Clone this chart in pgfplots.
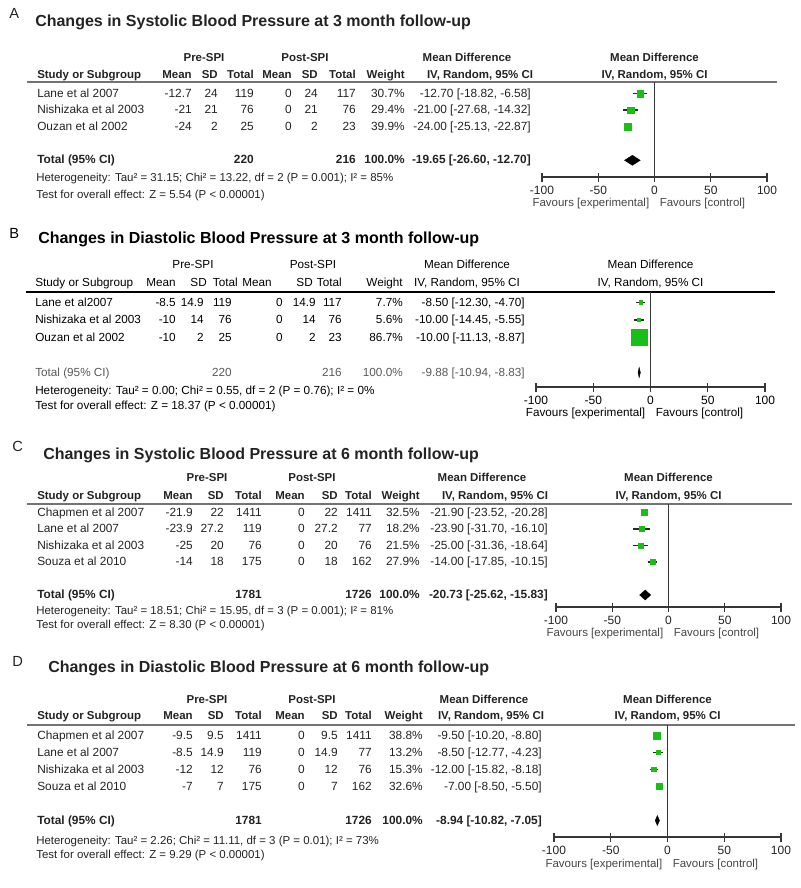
\documentclass[border=0pt]{standalone}
\usepackage{fontspec}
\setmainfont{Liberation Sans}
\usepackage{pgfplots}
\pgfplotsset{compat=1.18}
\definecolor{fgreen}{RGB}{25,190,25}
\definecolor{txt}{RGB}{35,35,35}
\definecolor{rulegray}{RGB}{115,115,115}
\definecolor{axgray}{RGB}{55,55,55}
\definecolor{favgray}{RGB}{70,70,70}
\definecolor{cigray}{RGB}{40,40,40}
\newcommand{\fs}[1]{\fontsize{#1}{#1}\selectfont}

\pgfplotsset{
  forest/.style={
    scale only axis, clip=false, anchor=south west,
    xmin=-100, xmax=100,
    axis x line=bottom, axis y line=none,
    x axis line style={-, line width=0.8pt, draw=axgray},
    xtick={-100,-50,0,50,100},
    tick align=center, major tick length=6.75pt,
    xtick style={line width=0.8pt, draw=axgray},
    /pgf/number format/assume math mode=true,
    xticklabel style={font=\fs{9pt}, text=txt, inner sep=0pt, anchor=north, yshift=-3pt},
  },
  ci/.style={draw=cigray, line width=1.1pt},
  box/.style={only marks, mark=square*, mark options={fill=fgreen, draw=fgreen}},
  dia/.style={fill=black, draw=black, line width=0.3pt},
}

% y, name, m1, sd1, n1, sd2, n2, weight, ci
\newcommand{\drow}[9]{%
  \node[al] at (\cS,#1) {#2};
  \node[ar] at (\cMa,#1) {#3};
  \node[ar] at (\cSa,#1) {#4};
  \node[ar] at (\cNa,#1) {#5};
  \node[ar] at (\cMb,#1) {0};
  \node[ar] at (\cSb,#1) {#6};
  \node[ar] at (\cNb,#1) {#7};
  \node[ar] at (\cW,#1) {#8};
  \node[ar] at (\cCI,#1) {#9};
}

\begin{document}
\begin{tikzpicture}[x=0.75pt,y=-0.75pt,
  al/.style={anchor=mid west}, ar/.style={anchor=mid east}, ac/.style={anchor=mid}]
\useasboundingbox (0,0) rectangle (800,888);

\begin{scope}[every node/.style={inner sep=0pt, text=txt}]
% ================= Panel A =================
\node[al, font=\fs{11pt}] at (9,15) {A};
\node[al, font=\bfseries\fs{12pt}] at (35,23) {Changes in Systolic Blood Pressure at 3 month follow-up};
\begin{scope}[every node/.append style={font=\bfseries\fs{8.6pt}}]
\node[ac] at (204,58) {Pre-SPI};
\node[ac] at (305,58) {Post-SPI};
\node[ac] at (467,58) {Mean Difference};
\node[ac] at (654.5,58) {Mean Difference};
\node[al] at (37,75) {Study or Subgroup};
\node[ar] at (192,75) {Mean}; \node[ar] at (218,75) {SD}; \node[ar] at (254,75) {Total};
\node[ar] at (292,75) {Mean}; \node[ar] at (318,75) {SD}; \node[ar] at (356,75) {Total};
\node[ar] at (405,75) {Weight};
\node[ac] at (480,75) {IV, Random, 95\% CI};
\node[ac] at (654.5,75) {IV, Random, 95\% CI};
\end{scope}
\draw[rulegray, line width=1.7pt] (27,82) -- (777,82);
\def\cS{37}\def\cMa{192}\def\cSa{218}\def\cNa{254}\def\cMb{292}\def\cSb{318}\def\cNb{356}\def\cW{405}\def\cCI{531}
\begin{scope}[every node/.append style={font=\fs{8.9pt}}]
\drow{93.5}{Lane et al 2007}{-12.7}{24}{119}{24}{117}{30.7\%}{-12.70 [-18.82, -6.58]}
\drow{110.2}{Nishizaka et al 2003}{-21}{21}{76}{21}{76}{29.4\%}{-21.00 [-27.68, -14.32]}
\drow{126.9}{Ouzan et al 2002}{-24}{2}{25}{2}{23}{39.9\%}{-24.00 [-25.13, -22.87]}
\end{scope}
\begin{scope}[every node/.append style={font=\bfseries\fs{8.9pt}}]
\node[al] at (\cS,160.3) {Total (95\% CI)};
\node[ar] at (\cNa,160.3) {220}; \node[ar] at (\cNb,160.3) {216};
\node[ar] at (\cW,160.3) {100.0\%}; \node[ar] at (\cCI,160.3) {-19.65 [-26.60, -12.70]};
\end{scope}
\begin{scope}[every node/.append style={font=\fs{8.6pt}}]
\node[al] at (36,178) {Heterogeneity: Tau² = 31.15; Chi² = 13.22, df = 2 (P = 0.001); I² = 85\%};
\node[al] at (36,195) {Test for overall effect: Z = 5.54 (P < 0.00001)};
\node[ar, text=favgray] at (649.5,203) {Favours [experimental]};
\node[al, text=favgray] at (659.5,203) {Favours [control]};
\end{scope}

% ================= Panel B =================
\node[al, font=\fs{11pt}, text=black] at (9,235) {B};
\node[al, font=\bfseries\fs{12pt}, text=black] at (38,240) {Changes in Diastolic Blood Pressure at 3 month follow-up};
\begin{scope}[every node/.append style={font=\fs{8.8pt}, text=black}]
\node[ac] at (193,265) {Pre-SPI};
\node[ac] at (313,265) {Post-SPI};
\node[ac] at (467,265) {Mean Difference};
\node[ac] at (650.5,265) {Mean Difference};
\node[al] at (35,283) {Study or Subgroup};
\node[ar] at (176,283) {Mean}; \node[ar] at (207,283) {SD}; \node[ar] at (238,283) {Total};
\node[ar] at (272,283) {Mean}; \node[ar] at (313,283) {SD}; \node[ar] at (342,283) {Total};
\node[ar] at (403,283) {Weight};
\node[ac] at (467,283) {IV, Random, 95\% CI};
\node[ac] at (650.5,283) {IV, Random, 95\% CI};
\end{scope}
\draw[black, line width=1.1pt] (26,292) -- (775,292);
\def\cS{35}\def\cMa{176}\def\cSa{204}\def\cNa{232}\def\cMb{283}\def\cSb{316}\def\cNb{342}\def\cW{403}\def\cCI{525}
\begin{scope}[every node/.append style={font=\fs{8.8pt}, text=black}]
\drow{302.5}{Lane et al2007}{-8.5}{14.9}{119}{14.9}{117}{7.7\%}{-8.50 [-12.30, -4.70]}
\drow{320}{Nishizaka et al 2003}{-10}{14}{76}{14}{76}{5.6\%}{-10.00 [-14.45, -5.55]}
\drow{337.5}{Ouzan et al 2002}{-10}{2}{25}{2}{23}{86.7\%}{-10.00 [-11.13, -8.87]}
\end{scope}
\begin{scope}[every node/.append style={font=\fs{8.8pt}, text=black!65}]
\node[al] at (\cS,372.5) {Total (95\% CI)};
\node[ar] at (\cNa,372.5) {220}; \node[ar] at (\cNb,372.5) {216};
\node[ar] at (\cW,372.5) {100.0\%}; \node[ar] at (\cCI,372.5) {-9.88 [-10.94, -8.83]};
\end{scope}
\begin{scope}[every node/.append style={font=\fs{8.8pt}, text=black}]
\node[al] at (35,391) {Heterogeneity: Tau² = 0.00; Chi² = 0.55, df = 2 (P = 0.76); I² = 0\%};
\node[al] at (35,406) {Test for overall effect: Z = 18.37 (P < 0.00001)};
\node[ar] at (645.5,413) {Favours [experimental]};
\node[al] at (655.5,413) {Favours [control]};
\end{scope}

% ================= Panel C =================
\node[al, font=\fs{11pt}] at (12,448) {C};
\node[al, font=\bfseries\fs{12pt}] at (43,456) {Changes in Systolic Blood Pressure at 6 month follow-up};
\begin{scope}[every node/.append style={font=\bfseries\fs{8.6pt}}]
\node[ac] at (207,478) {Pre-SPI};
\node[ac] at (312,478) {Post-SPI};
\node[ac] at (482,478) {Mean Difference};
\node[ac] at (668.5,478) {Mean Difference};
\node[al] at (37,496) {Study or Subgroup};
\node[ar] at (193,496) {Mean}; \node[ar] at (224,496) {SD}; \node[ar] at (262,496) {Total};
\node[ar] at (305,496) {Mean}; \node[ar] at (338,496) {SD}; \node[ar] at (372,496) {Total};
\node[ar] at (420,496) {Weight};
\node[ac] at (495,496) {IV, Random, 95\% CI};
\node[ac] at (668.5,496) {IV, Random, 95\% CI};
\end{scope}
\draw[rulegray, line width=1.7pt] (27,504) -- (792,504);
\def\cS{37}\def\cMa{193}\def\cSa{224}\def\cNa{262}\def\cMb{305}\def\cSb{338}\def\cNb{372}\def\cW{420}\def\cCI{548}
\begin{scope}[every node/.append style={font=\fs{8.9pt}}]
\drow{512.5}{Chapmen et al 2007}{-21.9}{22}{1411}{22}{1411}{32.5\%}{-21.90 [-23.52, -20.28]}
\drow{529}{Lane et al 2007}{-23.9}{27.2}{119}{27.2}{77}{18.2\%}{-23.90 [-31.70, -16.10]}
\drow{545.5}{Nishizaka et al 2003}{-25}{20}{76}{20}{76}{21.5\%}{-25.00 [-31.36, -18.64]}
\drow{562}{Souza et al 2010}{-14}{18}{175}{18}{162}{27.9\%}{-14.00 [-17.85, -10.15]}
\end{scope}
\begin{scope}[every node/.append style={font=\bfseries\fs{8.9pt}}]
\node[al] at (\cS,595) {Total (95\% CI)};
\node[ar] at (\cNa,595) {1781}; \node[ar] at (\cNb,595) {1726};
\node[ar] at (\cW,595) {100.0\%}; \node[ar] at (\cCI,595) {-20.73 [-25.62, -15.83]};
\end{scope}
\begin{scope}[every node/.append style={font=\fs{8.6pt}}]
\node[al] at (36,611) {Heterogeneity: Tau² = 18.51; Chi² = 15.95, df = 3 (P = 0.001); I² = 81\%};
\node[al] at (36,625) {Test for overall effect: Z = 8.30 (P < 0.00001)};
\node[ar, text=favgray] at (663.5,633) {Favours [experimental]};
\node[al, text=favgray] at (673.5,633) {Favours [control]};
\end{scope}

% ================= Panel D =================
\node[al, font=\fs{11pt}] at (12,663) {D};
\node[al, font=\bfseries\fs{12pt}] at (48,669) {Changes in Diastolic Blood Pressure at 6 month follow-up};
\begin{scope}[every node/.append style={font=\bfseries\fs{8.6pt}}]
\node[ac] at (207,700) {Pre-SPI};
\node[ac] at (312,700) {Post-SPI};
\node[ac] at (484,700) {Mean Difference};
\node[ac] at (667.5,700) {Mean Difference};
\node[al] at (37,716) {Study or Subgroup};
\node[ar] at (193,716) {Mean}; \node[ar] at (224,716) {SD}; \node[ar] at (262,716) {Total};
\node[ar] at (305,716) {Mean}; \node[ar] at (338,716) {SD}; \node[ar] at (372,716) {Total};
\node[ar] at (423,716) {Weight};
\node[ac] at (491,716) {IV, Random, 95\% CI};
\node[ac] at (667.5,716) {IV, Random, 95\% CI};
\end{scope}
\draw[rulegray, line width=1.7pt] (27,725) -- (795,725);
\def\cS{37}\def\cMa{193}\def\cSa{224}\def\cNa{262}\def\cMb{305}\def\cSb{338}\def\cNb{372}\def\cW{423}\def\cCI{542}
\begin{scope}[every node/.append style={font=\fs{8.9pt}}]
\drow{735.5}{Chapmen et al 2007}{-9.5}{9.5}{1411}{9.5}{1411}{38.8\%}{-9.50 [-10.20, -8.80]}
\drow{752.5}{Lane et al 2007}{-8.5}{14.9}{119}{14.9}{77}{13.2\%}{-8.50 [-12.77, -4.23]}
\drow{769.5}{Nishizaka et al 2003}{-12}{12}{76}{12}{76}{15.3\%}{-12.00 [-15.82, -8.18]}
\drow{786.5}{Souza et al 2010}{-7}{7}{175}{7}{162}{32.6\%}{-7.00 [-8.50, -5.50]}
\end{scope}
\begin{scope}[every node/.append style={font=\bfseries\fs{8.9pt}}]
\node[al] at (\cS,820.5) {Total (95\% CI)};
\node[ar] at (\cNa,820.5) {1781}; \node[ar] at (\cNb,820.5) {1726};
\node[ar] at (\cW,820.5) {100.0\%}; \node[ar] at (\cCI,820.5) {-8.94 [-10.82, -7.05]};
\end{scope}
\begin{scope}[every node/.append style={font=\fs{8.6pt}}]
\node[al] at (36,841) {Heterogeneity: Tau² = 2.26; Chi² = 11.11, df = 3 (P = 0.01); I² = 73\%};
\node[al] at (36,855) {Test for overall effect: Z = 9.29 (P < 0.00001)};
\node[ar, text=favgray] at (662.5,864) {Favours [experimental]};
\node[al, text=favgray] at (672.5,864) {Favours [control]};
\end{scope}
\end{scope}

% ================= Forest axes =================
% A
\begin{axis}[forest, at={(406.5pt,-132.75pt)}, width=168.75pt, height=71.25pt, ymin=-6.0, ymax=-0.311]
\draw[axgray, line width=0.8pt] (axis cs:0,-6.0) -- (axis cs:0,-0.311);
\addplot[ci] coordinates {(-18.82,-1) (-6.58,-1)};
\addplot[box, mark size=2.5pt] coordinates {(-12.70,-1)};
\addplot[ci] coordinates {(-27.68,-2) (-14.32,-2)};
\addplot[box, mark size=2.45pt] coordinates {(-21.00,-2)};
\addplot[ci] coordinates {(-25.13,-3) (-22.87,-3)};
\addplot[box, mark size=2.8pt] coordinates {(-24.00,-3)};
\addplot[dia] coordinates {(-26.60,-5) (-19.65,-4.7) (-12.70,-5) (-19.65,-5.3)} --cycle;
\end{axis}
% B
\begin{axis}[forest, at={(402pt,-290.25pt)}, width=171.75pt, height=71.25pt, ymin=-5.829, ymax=-0.4,
  xticklabel style={text=black}]
\draw[axgray, line width=0.8pt] (axis cs:0,-5.829) -- (axis cs:0,-0.4);
\addplot[ci] coordinates {(-12.30,-1) (-4.70,-1)};
\addplot[box, mark size=1.3pt] coordinates {(-8.50,-1)};
\addplot[ci] coordinates {(-14.45,-2) (-5.55,-2)};
\addplot[box, mark size=1.15pt] coordinates {(-10.00,-2)};
\addplot[ci] coordinates {(-11.13,-3) (-8.87,-3)};
\addplot[box, mark size=6.2pt] coordinates {(-10.00,-3)};
\addplot[dia] coordinates {(-10.94,-5) (-9.88,-4.714) (-8.83,-5) (-9.88,-5.286)} --cycle;
\end{axis}
% C
\begin{axis}[forest, at={(417pt,-455.25pt)}, width=168.75pt, height=77.25pt, ymin=-6.727, ymax=-0.485]
\draw[axgray, line width=0.8pt] (axis cs:0,-6.727) -- (axis cs:0,-0.485);
\addplot[ci] coordinates {(-23.52,-1) (-20.28,-1)};
\addplot[box, mark size=2.25pt] coordinates {(-21.90,-1)};
\addplot[ci] coordinates {(-31.70,-2) (-16.10,-2)};
\addplot[box, mark size=1.7pt] coordinates {(-23.90,-2)};
\addplot[ci] coordinates {(-31.36,-3) (-18.64,-3)};
\addplot[box, mark size=1.85pt] coordinates {(-25.00,-3)};
\addplot[ci] coordinates {(-17.85,-4) (-10.15,-4)};
\addplot[box, mark size=2.05pt] coordinates {(-14.00,-4)};
\addplot[dia] coordinates {(-25.62,-6) (-20.73,-5.697) (-15.83,-6) (-20.73,-6.303)} --cycle;
\end{axis}
% D
\begin{axis}[forest, at={(415.5pt,-627.75pt)}, width=170.25pt, height=84pt, ymin=-6.971, ymax=-0.382]
\draw[axgray, line width=0.8pt] (axis cs:0,-6.971) -- (axis cs:0,-0.382);
\addplot[ci] coordinates {(-10.20,-1) (-8.80,-1)};
\addplot[box, mark size=2.6pt] coordinates {(-9.50,-1)};
\addplot[ci] coordinates {(-12.77,-2) (-4.23,-2)};
\addplot[box, mark size=1.55pt] coordinates {(-8.50,-2)};
\addplot[ci] coordinates {(-15.82,-3) (-8.18,-3)};
\addplot[box, mark size=1.65pt] coordinates {(-12.00,-3)};
\addplot[ci] coordinates {(-8.50,-4) (-5.50,-4)};
\addplot[box, mark size=2.4pt] coordinates {(-7.00,-4)};
\addplot[dia] coordinates {(-10.82,-6) (-8.94,-5.706) (-7.05,-6) (-8.94,-6.294)} --cycle;
\end{axis}
\end{tikzpicture}
\end{document}
